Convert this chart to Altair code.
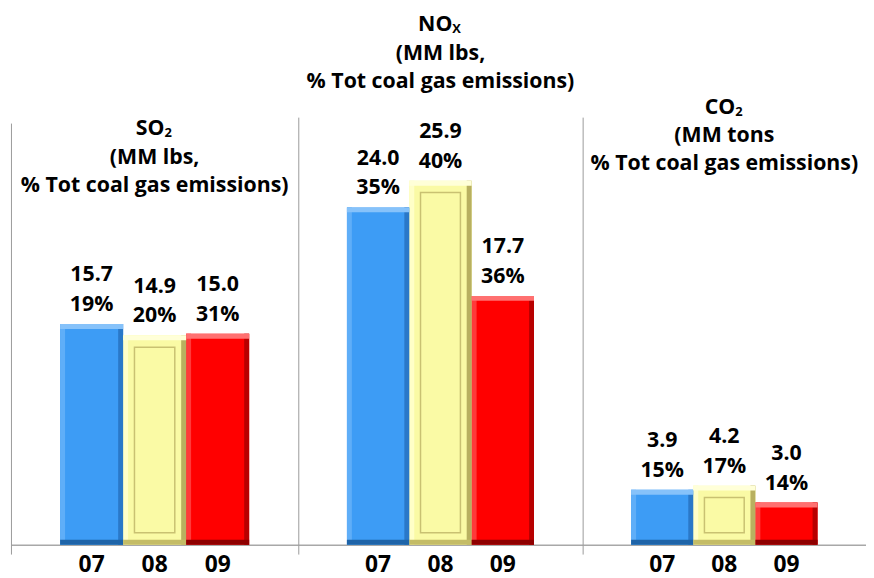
import altair as alt
import pandas as pd

# ---------------- data ----------------
YEARS = ["07", "08", "09"]
PANELS = ["SO2", "NOx", "CO2"]
SO2_VALUES = [15.7, 14.9, 15.0]
SO2_PCT = [19, 20, 31]
NOX_VALUES = [24.0, 25.9, 17.7]
NOX_PCT = [35, 40, 36]
CO2_VALUES = [3.9, 4.2, 3.0]
CO2_PCT = [15, 17, 14]
TITLE_MAIN = ["SO", "NO", "CO"]
TITLE_SUB = ["2", "X", "2"]
TITLE_UNITS = ["(MM lbs,", "(MM lbs,", "(MM tons"]
TITLE_TAIL = "% Tot coal gas emissions)"

# ---------------- style / layout ----------------
FONT = "Open Sans"
BASE = ["#3D9CF5", "#FAFAA5", "#FF0000"]
LIGHT = ["#86C2FA", "#FFFFD8", "#FF7070"]
SIDE_LIGHT = ["#5FAEF8", "#FFFFC8", "#FF3A3A"]
SIDE_DARK = ["#2A78C8", "#B8B060", "#B80000"]
DARK = ["#1E64A8", "#C4BC66", "#8E0000"]
H = 539
WIDTHS = [290, 287, 286]
TITLE_Y = [(120, 149), (15, 44), (98, 127)]
TITLE_DX = [10, 12, 11]
SEP_TOP = [114, 108, 108]
YMAX = 38
LABEL_LH = 30


def by_year(colors):
    return (
        alt.when(alt.datum.year == YEARS[0]).then(alt.value(colors[0]))
        .when(alt.datum.year == YEARS[1]).then(alt.value(colors[1]))
        .otherwise(alt.value(colors[2]))
    )


def panel(i, values, pcts):
    W = WIDTHS[i]
    df = pd.DataFrame({"year": YEARS, "value": values, "pct": pcts})
    df["label"] = [f"{v:.1f}\n{p}%" for v, p in zip(values, pcts)]
    xs = alt.Scale(domain=YEARS, paddingInner=0, paddingOuter=0.78)
    ys = alt.Scale(domain=[0, YMAX], nice=False, zero=True)
    axis = alt.Axis(labelFont=FONT, labelFontWeight="bold", labelFontSize=23,
                    labelColor="black", labelPadding=9, labelAngle=0, ticks=False,
                    domain=True, domainColor="#a8a8a8", domainWidth=1.5, grid=False,
                    title=None)
    x = alt.X("year:N", scale=xs, axis=axis, title=None)
    y = alt.Y("value:Q", scale=ys, axis=None)
    base = alt.Chart(df)

    bars = base.mark_bar().encode(x=x, y=y, color=by_year(BASE))
    left = base.mark_rule(strokeWidth=5, xOffset=2.5).encode(
        x=alt.X("year:N", scale=xs, bandPosition=0, axis=axis, title=None),
        y=y, y2=alt.datum(0), color=by_year(SIDE_LIGHT))
    right = base.mark_rule(strokeWidth=5, xOffset=-2.5).encode(
        x=alt.X("year:N", scale=xs, bandPosition=1, axis=axis, title=None),
        y=y, y2=alt.datum(0), color=by_year(SIDE_DARK))
    top = base.mark_bar(y2Offset=5).encode(
        x=x, y=y, y2=alt.Y2("value:Q"), color=by_year(LIGHT))
    bottom = base.mark_bar(yOffset=-5).encode(
        x=x, y=alt.Y(datum=0, scale=ys, axis=None), y2=alt.datum(0),
        color=by_year(DARK))
    inner = base.transform_filter(alt.datum.year == YEARS[1]).mark_bar(
        width={"band": 0.64}, fillOpacity=0, stroke="#C9C172", strokeWidth=1.5,
        yOffset=12, y2Offset=-12).encode(x=x, y=y, y2=alt.datum(0))
    labels = base.mark_text(
        baseline="bottom", dy=-8 - LABEL_LH, lineBreak="\n", lineHeight=LABEL_LH,
        font=FONT, fontWeight="bold", fontSize=21.5, color="black").encode(
        x=x, y=y, text="label:N")

    t_main = alt.Chart(pd.DataFrame({"t": [TITLE_MAIN[i]]})).mark_text(
        align="right", baseline="middle", dx=TITLE_DX[i], font=FONT,
        fontWeight="bold", fontSize=21.5, color="black").encode(
        x=alt.value(W / 2), y=alt.value(TITLE_Y[i][0]), text="t:N")
    t_sub = alt.Chart(pd.DataFrame({"t": [TITLE_SUB[i]]})).mark_text(
        align="left", baseline="middle", dx=TITLE_DX[i], dy=4, font=FONT,
        fontWeight="bold", fontSize=13, color="black").encode(
        x=alt.value(W / 2), y=alt.value(TITLE_Y[i][0]), text="t:N")
    t_rest = alt.Chart(pd.DataFrame({"t": [TITLE_UNITS[i] + "\n" + TITLE_TAIL]})).mark_text(
        align="center", baseline="middle", lineBreak="\n", lineHeight=28, font=FONT,
        fontWeight="bold", fontSize=21.5, color="black").encode(
        x=alt.value(W / 2), y=alt.value(TITLE_Y[i][1]), text="t:N")
    sep = alt.Chart(pd.DataFrame({"k": [0]})).mark_rule(color="#9a9a9a", strokeWidth=1).encode(
        x=alt.value(0.5), y=alt.value(SEP_TOP[i]), y2=alt.value(H + 10))

    return alt.layer(sep, bars, left, right, top, bottom, inner, labels,
                     t_main, t_sub, t_rest).properties(width=W, height=H)


chart = alt.hconcat(
    panel(0, SO2_VALUES, SO2_PCT),
    panel(1, NOX_VALUES, NOX_PCT),
    panel(2, CO2_VALUES, CO2_PCT),
    spacing=0, bounds="flush",
).properties(
    padding={"left": 3, "top": 0, "right": 0, "bottom": 0},
    background="white",
).configure_view(stroke=None)

chart.save("out.html", embed_options={"renderer": "svg", "actions": False})
